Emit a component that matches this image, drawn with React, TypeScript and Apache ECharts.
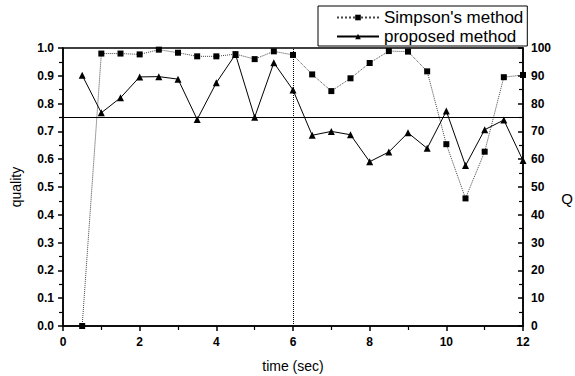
import React, { useEffect, useRef } from "react";
import * as echarts from "echarts";

// time stamps (sec)
const times = [0.5, 1, 1.5, 2, 2.5, 3, 3.5, 4, 4.5, 5, 5.5, 6, 6.5, 7, 7.5, 8, 8.5, 9, 9.5, 10, 10.5, 11, 11.5, 12];
// Simpson's method, Q scale (0-100)
const simpsonQ = [0, 98, 98, 97.7, 99.4, 98.3, 97, 97, 97.8, 96, 98.8, 97.5, 90.5, 84.5, 89.1, 94.6, 98.9, 98.7, 91.6, 65.4, 45.9, 62.7, 89.5, 90.3];
// proposed method, quality scale (0-1)
const proposedQuality = [0.902, 0.767, 0.821, 0.896, 0.897, 0.888, 0.743, 0.875, 0.977, 0.751, 0.947, 0.849, 0.686, 0.7, 0.688, 0.591, 0.626, 0.695, 0.639, 0.773, 0.577, 0.706, 0.741, 0.595];
const thresholdQuality = 0.75;
const markerTime = 6;

const FONT = "'Liberation Sans', Arial, sans-serif";

export default function App() {
  const ref = useRef<HTMLDivElement>(null);

  useEffect(() => {
    if (!ref.current) return;
    const chart = echarts.init(ref.current, null, { renderer: "svg" });
    const labelStyle = { color: "#000", fontFamily: FONT, fontSize: 12, fontWeight: "bold" as const };
    const axisLine = { show: true, lineStyle: { color: "#000", width: 1.5 } };

    chart.setOption({
      animation: false,
      backgroundColor: "#fff",
      textStyle: { fontFamily: FONT },
      grid: {
        left: 63,
        right: 52,
        top: 48,
        bottom: 50,
        outerBoundsMode: "none",
        show: true,
        borderColor: "#000",
        borderWidth: 1.5,
      },
      legend: {
        left: 318,
        top: 6,
        width: 207,
        orient: "vertical",
        itemWidth: 42,
        itemHeight: 7,
        itemGap: 2,
        padding: [3, 4, 1, 18],
        borderColor: "#000",
        borderWidth: 1,
        backgroundColor: "#fff",
        textStyle: { color: "#000", fontFamily: FONT, fontSize: 17 },
        data: ["Simpson's method", "proposed method"],
      },
      // right-hand axis title, set a little below the axis middle
      graphic: [
        {
          type: "text",
          right: 2,
          top: 191,
          style: { text: "Q", fill: "#000", font: `15px ${FONT}` },
        },
      ],
      xAxis: {
        type: "value",
        min: 0,
        max: 12,
        interval: 2,
        name: "time (sec)",
        nameLocation: "middle",
        nameGap: 33,
        nameTextStyle: { color: "#000", fontFamily: FONT, fontSize: 14 },
        axisLine,
        axisTick: { show: true, length: 5, lineStyle: { color: "#000", width: 1.5 } },
        minorTick: { show: true, splitNumber: 2, length: 4, lineStyle: { color: "#000", width: 1.2 } },
        axisLabel: { ...labelStyle, margin: 10 },
        splitLine: { show: false },
      },
      yAxis: [
        {
          type: "value",
          min: 0,
          max: 1,
          interval: 0.1,
          name: "quality",
          nameLocation: "middle",
          nameGap: 40,
          nameTextStyle: { color: "#000", fontFamily: FONT, fontSize: 14 },
          axisLine,
          axisTick: { show: true, length: 5, lineStyle: { color: "#000", width: 1.5 } },
          minorTick: { show: true, splitNumber: 2, length: 4, lineStyle: { color: "#000", width: 1.2 } },
          axisLabel: { ...labelStyle, margin: 9, formatter: (v: number) => v.toFixed(1) },
          splitLine: { show: false },
        },
        {
          type: "value",
          min: 0,
          max: 100,
          interval: 10,
          position: "right",
          axisLine,
          axisTick: { show: true, inside: true, length: 5, lineStyle: { color: "#000", width: 1.5 } },
          minorTick: { show: true, splitNumber: 2, length: 4, lineStyle: { color: "#000", width: 1.2 } },
          axisLabel: { ...labelStyle, margin: 8 },
          splitLine: { show: false },
        },
      ],
      series: [
        {
          name: "Simpson's method",
          type: "line",
          yAxisIndex: 1,
          data: times.map((t, i) => [t, simpsonQ[i]]),
          symbol: "rect",
          symbolSize: 6,
          itemStyle: { color: "#000" },
          lineStyle: { color: "#444", width: 1, type: "dotted" },
          z: 3,
        },
        {
          name: "proposed method",
          type: "line",
          yAxisIndex: 0,
          data: times.map((t, i) => [t, proposedQuality[i]]),
          symbol: "triangle",
          symbolSize: 7,
          itemStyle: { color: "#000" },
          lineStyle: { color: "#000", width: 1, type: "solid" },
          z: 4,
          markLine: {
            silent: true,
            symbol: "none",
            label: { show: false },
            data: [
              { yAxis: thresholdQuality, lineStyle: { color: "#000", width: 1, type: "solid" } },
              { xAxis: markerTime, lineStyle: { color: "#000", width: 1, type: "dotted" } },
            ],
          },
        },
      ],
    });

    return () => chart.dispose();
  }, []);

  return (
    <div
      ref={ref}
      style={{ position: "fixed", left: 0, top: 0, width: 575, height: 376, background: "#fff" }}
    />
  );
}
